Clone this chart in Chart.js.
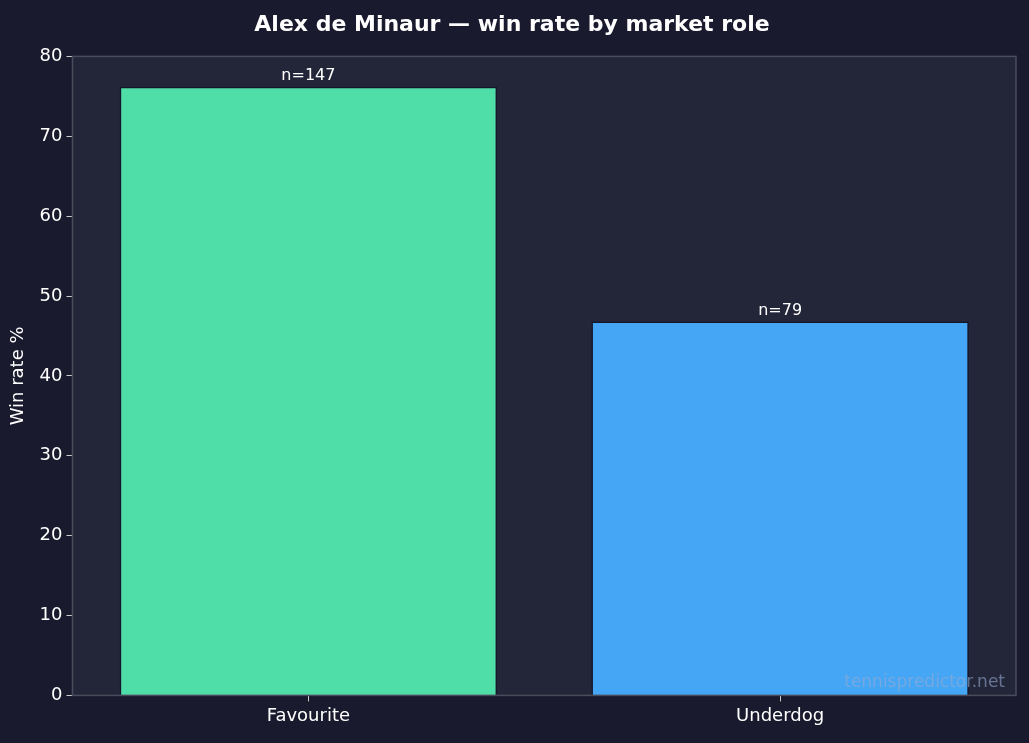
<!DOCTYPE html>
<html><head><meta charset="utf-8">
<script src="https://cdn.jsdelivr.net/npm/chart.js@4"></script>
<style>html,body{margin:0;padding:0;background:#1a1a2e;}#w{width:1029px;height:743px;}</style>
</head><body><div id="w"><canvas id="c"></canvas></div>
<script>
const categories = ["Favourite", "Underdog"];
const winRates = [76.2, 46.8];
const sampleSizes = ["n=147", "n=79"];
const yTicks = [0,10,20,30,40,50,60,70,80];
const colors = ["#4fdea7", "#44a6f5"];

const deco = {
  id: 'deco',
  beforeDraw(chart) {
    const {ctx, chartArea: a} = chart;
    ctx.save();
    ctx.fillStyle = '#232538';
    ctx.fillRect(a.left, a.top, a.right - a.left, a.bottom - a.top);
    ctx.restore();
  },
  afterDatasetsDraw(chart) {
    const {ctx, chartArea: a} = chart;
    ctx.save();
    ctx.strokeStyle = '#4a4c5c';
    ctx.lineWidth = 1.5;
    ctx.strokeRect(a.left, a.top, a.right - a.left, a.bottom - a.top);
    const meta = chart.getDatasetMeta(0);
    ctx.fillStyle = '#ffffff';
    ctx.font = '16px "DejaVu Sans"';
    ctx.textAlign = 'center';
    ctx.textBaseline = 'bottom';
    meta.data.forEach((b, i) => ctx.fillText(sampleSizes[i], b.x, b.y - 3));
    ctx.fillStyle = 'rgba(150,170,210,0.6)';
    ctx.textAlign = 'right';
    ctx.font = '17px "DejaVu Sans"';
    ctx.fillText('tennispredictor.net', a.right - 11, a.bottom - 4);
    ctx.restore();
  }
};

new Chart(document.getElementById('c'), {
  type: 'bar',
  data: { labels: categories, datasets: [{ data: winRates, backgroundColor: colors, borderColor: '#14162a', borderWidth: 1.5, categoryPercentage: 0.8, barPercentage: 1.0 }] },
  options: {
    responsive: true, maintainAspectRatio: false, animation: false,
    layout: { padding: { left: 8, right: 13, top: 2, bottom: 12 } },
    plugins: {
      legend: { display: false }, tooltip: { enabled: false },
      title: { display: true, text: 'Alex de Minaur — win rate by market role', color: '#ffffff', font: { family: 'DejaVu Sans', size: 22, weight: 'bold' }, padding: { top: 10, bottom: 18 } }
    },
    scales: {
      x: { grid: { display: true, offset: false, drawOnChartArea: false, color: '#cccccc', tickLength: 6 }, border: { display: false }, ticks: { color: '#ffffff', font: { family: 'DejaVu Sans', size: 18 }, padding: 4 } },
      y: { min: 0, max: 80, afterBuildTicks: s => { s.ticks = yTicks.map(v => ({ value: v })); },
           grid: { display: true, drawOnChartArea: false, color: '#cccccc', tickLength: 6 }, border: { display: false },
           ticks: { color: '#ffffff', font: { family: 'DejaVu Sans', size: 18 }, padding: 4 },
           title: { display: true, text: 'Win rate %', color: '#ffffff', font: { family: 'DejaVu Sans', size: 18 }, padding: { top: 0, bottom: 6 } } }
    }
  },
  plugins: [deco]
});
</script></body></html>
